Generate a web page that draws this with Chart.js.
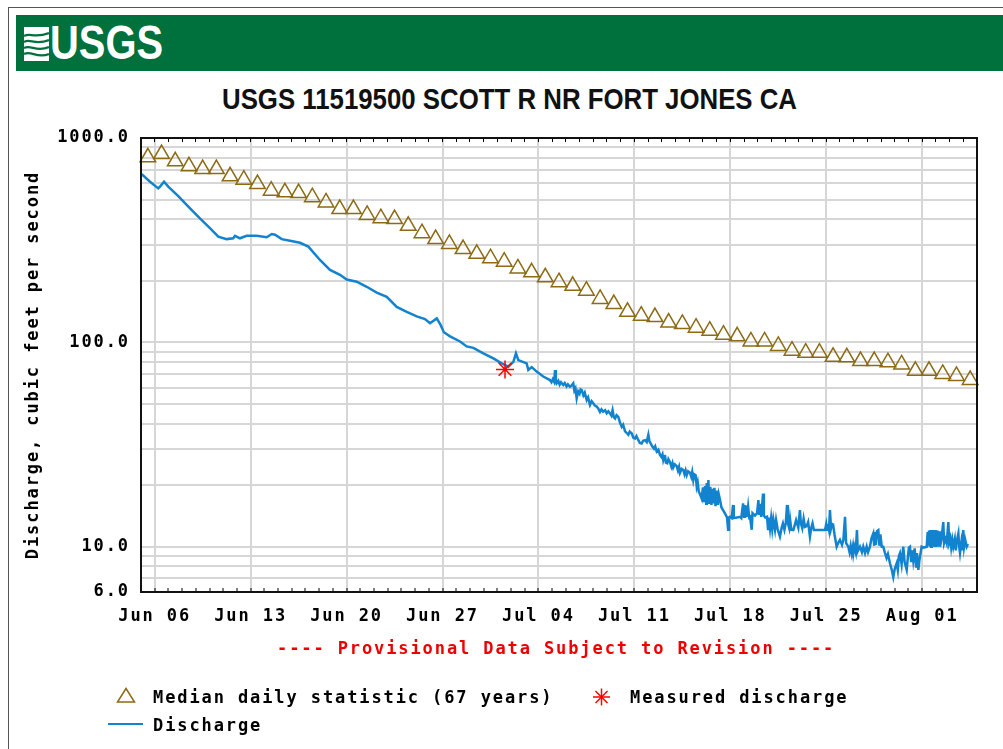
<!DOCTYPE html>
<html>
<head>
<meta charset="utf-8">
<title>USGS 11519500 SCOTT R NR FORT JONES CA</title>
<script src="https://cdn.jsdelivr.net/npm/chart.js@4.4.1/dist/chart.umd.min.js"></script>
<style>
  html, body { margin: 0; padding: 0; background: #fff; }
  body { width: 1003px; height: 749px; position: relative; overflow: hidden; }
  #frame { position: absolute; left: 8px; top: 7px; width: 1200px; height: 900px; border: 1px solid #555; }
  #banner { position: absolute; left: 16px; top: 15px; width: 1000px; height: 56px; background: #00703c; }
  #logoIcon { position: absolute; left: 24px; top: 27px; }
  .fit { position: absolute; white-space: nowrap; transform-origin: 0 0; }
  #logoText { left: 50px; top: 19px; font: bold 48px 'Liberation Sans', Arial, sans-serif; line-height: 48px; color: #fff; }
  #title { top: 84px; font: bold 30px 'Liberation Sans', Arial, sans-serif; line-height: 30px; color: #111; }
  .mono { position: absolute; font: bold 17px 'DejaVu Sans Mono', monospace; line-height: 17px; letter-spacing: 1.9px; white-space: nowrap; color: #000; }
  #provisional { left: 277px; top: 639.5px; color: #ee0000; }
  #chart { position: absolute; left: 0; top: 0; }
</style>
</head>
<body>
<div id="frame"></div>
<div id="banner"></div>
<svg id="logoIcon" width="25" height="34" viewBox="0 0 25 34">
  <rect x="0" y="0" width="25" height="34" fill="#fff"/>
  <path d="M0 9 C6 5, 10 12, 25 6" stroke="#00703c" stroke-width="2.2" fill="none"/>
  <path d="M0 15 C6 11, 11 19, 25 13" stroke="#00703c" stroke-width="2.2" fill="none"/>
  <path d="M0 21 C7 17, 12 26, 25 20" stroke="#00703c" stroke-width="2.2" fill="none"/>
  <path d="M0 27 C7 23, 13 32, 25 27" stroke="#00703c" stroke-width="2.2" fill="none"/>
</svg>
<div id="logoText" class="fit" data-width="113">USGS</div>
<div id="title" class="fit" data-width="575" data-center="509.5">USGS 11519500 SCOTT R NR FORT JONES CA</div>
<canvas id="chart" width="1003" height="749"></canvas>
<div id="provisional" class="mono">---- Provisional Data Subject to Revision ----</div>
<svg style="position:absolute;left:0;top:0" width="1003" height="749">
  <polygon points="126,688.5 117.5,702 134.5,702" fill="none" stroke="#8c6b14" stroke-width="1.5"/>
  <g stroke="#ff0000" stroke-width="1.5">
    <line x1="601.5" y1="688.5" x2="601.5" y2="705.5"/>
    <line x1="593" y1="697" x2="610" y2="697"/>
    <line x1="595.5" y1="691" x2="607.5" y2="703"/>
    <line x1="595.5" y1="703" x2="607.5" y2="691"/>
  </g>
  <line x1="108" y1="724" x2="143" y2="724" stroke="#1283cf" stroke-width="2"/>
</svg>
<div class="mono" style="left:153px;top:688.5px">Median daily statistic (67 years)</div>
<div class="mono" style="left:630px;top:688.5px">Measured discharge</div>
<div class="mono" style="left:153px;top:716.5px">Discharge</div>

<script>
// days are counted from Jun 05 00:00, discharge in cubic feet per second
var xTickDays = [1, 8, 15, 22, 29, 36, 43, 50, 57];
var xTickLabels = ['Jun 06', 'Jun 13', 'Jun 20', 'Jun 27', 'Jul 04', 'Jul 11', 'Jul 18', 'Jul 25', 'Aug 01'];
var dayCount = 61;

var yGridValues = [6, 7, 8, 9, 10, 20, 30, 40, 50, 60, 70, 80, 90, 100, 200, 300, 400, 500, 600, 700, 800, 900, 1000];
var yLabelValues = [6, 10, 100, 1000];
var yLabelTexts = ['6.0', '10.0', '100.0', '1000.0'];

// median daily statistic, one per day Jun 05 .. Aug 04
var medianCfs = [804, 835, 769, 727, 705, 705, 649, 625, 595, 552, 542, 538, 513, 484, 449, 449,
    420, 405, 401, 372, 342, 320, 303, 286, 271, 258, 248, 230, 220, 208, 197, 189, 179, 163,
    154, 141, 135, 133, 125, 123, 118, 114, 109, 107, 101, 101, 96, 91, 89, 89, 85, 84.5, 81,
    81, 80, 78, 72.5, 72.5, 70, 68.5, 65.5];

var measuredReadings = [[26.56, 73.7]];

// [day, cfs]
var dischargeReadings = [
    [0.05, 666], [0.66, 611], [1.26, 567], [1.39, 578], [1.68, 611], [1.99, 578],
    [2.72, 520], [3.58, 453], [4.30, 404], [5.03, 362], [5.64, 329], [6.25, 320],
    [6.73, 323], [6.86, 332], [7.22, 323], [7.71, 332], [8.44, 332], [9.17, 327],
    [9.54, 339], [9.78, 336], [10.27, 320], [10.87, 314], [11.60, 307], [12.21, 294],
    [13.06, 253], [13.79, 226], [14.52, 214], [15.01, 203], [15.74, 198], [16.47, 187],
    [17.20, 175], [17.93, 167], [18.66, 149], [19.39, 141], [20.12, 134], [20.72, 130],
    [21.09, 124], [21.58, 131], [21.85, 122], [22.10, 112], [22.55, 107], [23.28, 101],
    [23.76, 95.5], [24.25, 94.0], [24.98, 88.4], [25.71, 83.5], [26.32, 78.9], [26.80, 76.0],
    [27.17, 80.3], [27.36, 88.4], [27.53, 81.9], [28.14, 78.9], [28.26, 73.2], [28.51, 75.6],
    [28.87, 71.9], [29.35, 68.0], [29.84, 65.4], [29.95, 63.8], [30.05, 66.0], [30.15, 64.0],
    [30.21, 73.2], [30.27, 64.5], [30.33, 63.0], [30.45, 64.8], [30.55, 62.0], [30.65, 63.8],
    [30.81, 61.8], [30.92, 63.2], [31.05, 60.8], [31.15, 62.3], [31.30, 60.6], [31.42, 61.5],
    [31.54, 63.0], [31.62, 58.0], [31.70, 59.5], [31.79, 53.2], [31.90, 57.5], [32.00, 56.0],
    [32.08, 58.8], [32.16, 58.4], [32.28, 55.0], [32.38, 56.8], [32.52, 52.2], [32.62, 53.8],
    [32.76, 49.4], [32.88, 51.5], [33.00, 50.3], [33.12, 49.0], [33.25, 48.5], [33.36, 47.5],
    [33.49, 45.7], [33.60, 47.0], [33.72, 45.8], [33.86, 46.6], [33.98, 45.0], [34.10, 46.0],
    [34.22, 44.9], [34.32, 43.8], [34.41, 46.6], [34.50, 43.0], [34.59, 42.4], [34.70, 44.0],
    [34.83, 43.2], [34.95, 40.5], [35.08, 38.6], [35.18, 39.5], [35.32, 36.7], [35.44, 36.0],
    [35.56, 35.3], [35.66, 36.6], [35.81, 35.8], [35.92, 34.2], [36.05, 33.8], [36.15, 34.8],
    [36.29, 33.2], [36.40, 32.2], [36.53, 32.0], [36.64, 33.0], [36.78, 33.2], [36.90, 32.5],
    [37.02, 35.3], [37.10, 32.8], [37.19, 32.0], [37.30, 31.0], [37.43, 30.2], [37.52, 31.0],
    [37.63, 29.2], [37.75, 29.8], [37.87, 28.1], [37.97, 27.5], [38.05, 28.3], [38.11, 26.5],
    [38.18, 27.5], [38.23, 28.1], [38.30, 25.8], [38.40, 25.6], [38.48, 26.8], [38.60, 25.9],
    [38.70, 24.6], [38.78, 25.6], [38.84, 24.4], [38.95, 25.3], [39.09, 24.8], [39.18, 23.6],
    [39.26, 24.6], [39.33, 23.0], [39.45, 24.0], [39.57, 23.7], [39.66, 22.6], [39.74, 23.6],
    [39.82, 22.4], [39.92, 23.4], [40.06, 23.0], [40.15, 22.0], [40.22, 23.2], [40.30, 21.2],
    [40.38, 22.6], [40.47, 22.4], [40.55, 19.7], [40.62, 20.6], [40.70, 18.6],
    [40.80, 18.0], [40.91, 17.2], [41.00, 19.5], [41.08, 16.5], [41.16, 19.8], [41.24, 16.2],
    [41.28, 20.5], [41.34, 16.4], [41.40, 21.2], [41.46, 16.2], [41.54, 19.6], [41.62, 16.0],
    [41.70, 19.2], [41.76, 16.3], [41.84, 19.4], [41.92, 15.8], [42.00, 18.8], [42.08, 16.0],
    [42.16, 18.0], [42.25, 16.9], [42.35, 15.6], [42.47, 15.1], [42.60, 14.6], [42.76, 13.9],
    [42.84, 12.1], [42.90, 13.9], [42.98, 14.0], [43.10, 13.8], [43.20, 16.0], [43.25, 13.8],
    [43.49, 13.9], [43.71, 14.0], [43.80, 13.8], [43.93, 16.3], [44.00, 14.0], [44.05, 16.0],
    [44.10, 13.9], [44.15, 15.9], [44.22, 14.0], [44.30, 15.7], [44.38, 13.9], [44.44, 14.0],
    [44.56, 12.1], [44.62, 14.6], [44.80, 14.2], [44.95, 14.6], [45.05, 16.9], [45.10, 14.3],
    [45.17, 16.2], [45.25, 14.0], [45.39, 18.2], [45.45, 14.2], [45.55, 13.9], [45.68, 14.0],
    [45.75, 12.2], [45.82, 13.9], [45.90, 12.3], [45.98, 13.8], [46.06, 12.2], [46.14, 13.6],
    [46.26, 12.1], [46.34, 13.5], [46.45, 12.2], [46.62, 11.2], [46.75, 12.4], [46.84, 13.0],
    [46.95, 12.1], [47.05, 13.1], [47.14, 16.0], [47.20, 13.0], [47.30, 12.3], [47.36, 13.6],
    [47.45, 12.1], [47.60, 12.05], [47.72, 12.9], [47.80, 13.5], [47.96, 12.4], [48.08, 15.1],
    [48.15, 13.0], [48.25, 12.3], [48.35, 13.7], [48.45, 12.5], [48.57, 12.6], [48.68, 13.2],
    [48.81, 11.2], [48.90, 12.3], [49.00, 13.0], [49.10, 12.05], [49.54, 12.05], [49.91, 12.05],
    [50.00, 12.9], [50.06, 12.1], [50.12, 12.9], [50.20, 12.1], [50.27, 15.1], [50.35, 12.3],
    [50.42, 12.9], [50.49, 13.0], [50.60, 11.5], [50.76, 10.0], [50.90, 10.5], [51.00, 10.8],
    [51.15, 10.2], [51.25, 10.8], [51.37, 14.0], [51.45, 10.4], [51.61, 10.0], [51.70, 9.4],
    [51.78, 10.1], [51.86, 9.3], [51.94, 10.0], [51.98, 9.3], [52.05, 10.0], [52.15, 9.4],
    [52.24, 12.05], [52.30, 9.5], [52.46, 10.0], [52.60, 9.4], [52.70, 10.0], [52.83, 9.3],
    [52.95, 10.0], [53.05, 9.4], [53.19, 10.0], [53.30, 11.0], [53.43, 11.6], [53.50, 10.1],
    [53.56, 11.8], [53.62, 10.2], [53.70, 11.9], [53.80, 12.05], [53.88, 10.1], [53.95, 11.5],
    [54.05, 10.0], [54.16, 10.0], [54.29, 9.3], [54.40, 8.8], [54.50, 9.2], [54.65, 8.3],
    [54.80, 7.6], [54.89, 7.1], [55.00, 7.8], [55.14, 8.3], [55.22, 7.7], [55.30, 9.0],
    [55.38, 9.3], [55.50, 8.2], [55.62, 10.0], [55.72, 8.4], [55.87, 7.7], [55.95, 8.8],
    [56.03, 9.9], [56.11, 10.0], [56.20, 8.4], [56.28, 9.6], [56.35, 8.6], [56.45, 9.8],
    [56.55, 8.0], [56.62, 9.3], [56.72, 7.7], [56.80, 8.6], [56.96, 10.0], [57.10, 9.9],
    [57.33, 10.0], [57.40, 11.8], [57.45, 10.1], [57.50, 12.0], [57.55, 10.0], [57.60, 12.05],
    [57.65, 10.0], [57.70, 12.05], [57.75, 10.1], [57.80, 12.05], [57.85, 10.0], [57.90, 12.05],
    [57.95, 10.1], [58.00, 12.05], [58.06, 10.0], [58.12, 12.0], [58.18, 10.0], [58.24, 11.9],
    [58.30, 10.0], [58.40, 10.8], [58.54, 13.2], [58.60, 10.4], [58.70, 10.9], [58.79, 10.4],
    [58.91, 13.2], [58.97, 10.5], [59.05, 11.0], [59.12, 9.9], [59.20, 10.8], [59.27, 10.0],
    [59.38, 10.9], [59.45, 9.6], [59.52, 10.6], [59.64, 11.6], [59.70, 10.0], [59.76, 9.3],
    [59.85, 10.4], [59.90, 9.6], [60.00, 12.05], [60.06, 10.0], [60.14, 10.8], [60.25, 10.0],
    [60.34, 10.3]
];

var medianColor = '#8c6b14';
var dischargeColor = '#1283cf';
var gridColor = '#d6d6d6';
var monoFont = { family: "'DejaVu Sans Mono', monospace", size: 17, weight: 'bold' };

// squeeze the header texts to the widths they have in the picture
document.querySelectorAll('.fit').forEach(function (el) {
    var w = el.getBoundingClientRect().width;
    var sx = Number(el.dataset.width) / w;
    el.style.transform = 'scaleX(' + sx + ')';
    if (el.dataset.center) {
        el.style.left = (Number(el.dataset.center) - Number(el.dataset.width) / 2) + 'px';
    }
});

var dailyTicks = [];
for (var d = 0; d <= dayCount; d++) {
    dailyTicks.push({ value: d });
}

var spacingPlugin = {
    id: 'letterSpacing',
    beforeDraw: function (chart) {
        chart.ctx.letterSpacing = '1.9px';
    }
};

var framePlugin = {
    id: 'plotFrame',
    afterDraw: function (chart) {
        var a = chart.chartArea;
        var ctx = chart.ctx;
        ctx.save();
        ctx.strokeStyle = '#111';
        ctx.lineWidth = 2;
        ctx.strokeRect(a.left, a.top, a.right - a.left, a.bottom - a.top);
        ctx.restore();
    }
};

new Chart(document.getElementById('chart'), {
    type: 'line',
    data: {
        datasets: [{
            label: 'Measured discharge',
            data: measuredReadings,
            showLine: false,
            pointStyle: 'star',
            pointRadius: 9,
            pointBorderWidth: 1.5,
            borderColor: '#ff0000',
            backgroundColor: '#ff0000'
        }, {
            label: 'Discharge',
            data: dischargeReadings,
            borderColor: dischargeColor,
            borderWidth: 2.5,
            pointRadius: 0,
            tension: 0
        }, {
            label: 'Median daily statistic (67 years)',
            data: medianCfs.map(function (v, i) { return [i + 0.5, v]; }),
            showLine: false,
            pointStyle: 'triangle',
            pointRadius: 9,
            pointBorderWidth: 1.5,
            borderColor: medianColor,
            backgroundColor: 'rgba(0,0,0,0)',
            clip: false
        }]
    },
    options: {
        responsive: false,
        animation: false,
        devicePixelRatio: 1,
        layout: { padding: { left: 0, top: 138, right: 26, bottom: 117 } },
        plugins: {
            legend: { display: false },
            tooltip: { enabled: false }
        },
        scales: {
            x: {
                type: 'linear',
                min: 0,
                max: dayCount,
                afterBuildTicks: function (axis) { axis.ticks = dailyTicks.slice(); },
                afterFit: function (axis) { axis.height = 40; },
                ticks: {
                    autoSkip: false,
                    maxRotation: 0,
                    padding: 18,
                    color: '#000',
                    font: monoFont,
                    callback: function (value) {
                        var i = xTickDays.indexOf(value);
                        return i >= 0 ? xTickLabels[i] : '';
                    }
                },
                grid: {
                    color: gridColor,
                    lineWidth: function (c) { return xTickDays.indexOf(c.tick.value) >= 0 ? 2 : 0; },
                    tickLength: -4,
                    tickColor: '#000',
                    tickWidth: 1
                },
                border: { display: false }
            },
            xTop: {
                type: 'linear',
                position: 'top',
                min: 0,
                max: dayCount,
                afterBuildTicks: function (axis) { axis.ticks = dailyTicks.slice(); },
                afterFit: function (axis) { axis.height = 0; },
                ticks: { display: false, autoSkip: false },
                grid: { drawOnChartArea: false, tickLength: -4, tickColor: '#000', tickWidth: 1 },
                border: { display: false }
            },
            y: {
                type: 'logarithmic',
                min: 6,
                max: 1000,
                afterBuildTicks: function (axis) {
                    axis.ticks = yGridValues.map(function (v) { return { value: v }; });
                },
                afterFit: function (axis) { axis.width = 141; },
                ticks: {
                    autoSkip: false,
                    padding: 11,
                    color: '#000',
                    font: monoFont,
                    callback: function (value) {
                        var i = yLabelValues.indexOf(value);
                        return i >= 0 ? yLabelTexts[i] : '';
                    }
                },
                grid: { color: gridColor, lineWidth: 2, drawTicks: false },
                border: { display: false },
                title: {
                    display: true,
                    text: 'Discharge, cubic feet per second',
                    color: '#000',
                    font: monoFont,
                    padding: { top: 23.5, bottom: 0 }
                }
            }
        }
    },
    plugins: [spacingPlugin, framePlugin]
});
</script>
</body>
</html>
